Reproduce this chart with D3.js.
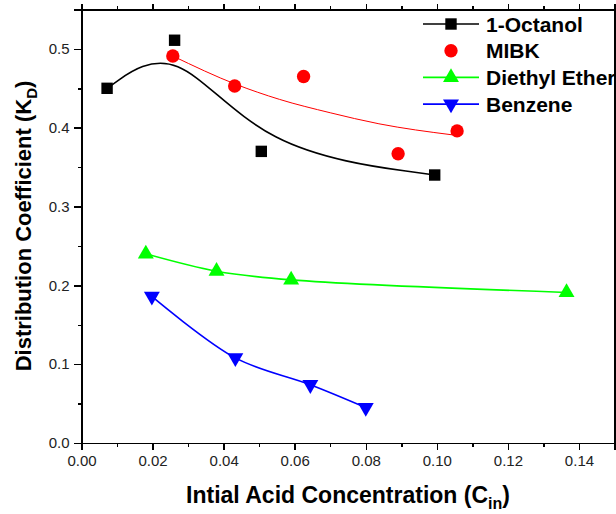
<!DOCTYPE html>
<html>
<head>
<meta charset="utf-8">
<script src="https://cdn.jsdelivr.net/npm/d3@7/dist/d3.min.js"></script>
<style>
  body { margin: 0; background: #fff; }
  svg { font-family: "Liberation Sans", Arial, sans-serif; }
  .axis path, .axis line { fill: none; stroke: #000; stroke-width: 1.5px; shape-rendering: crispEdges; }
  .axis text { font-size: 15px; fill: #222; }
</style>
</head>
<body>
<div id="container"></div>
<script>
// data
let octanolX = [0.0072, 0.0262, 0.0506, 0.0994];
let octanolY = [0.450, 0.511, 0.370, 0.340];

let mibkX = [0.0257, 0.0431, 0.0625, 0.0891, 0.1057];
let mibkY = [0.491, 0.453, 0.465, 0.367, 0.396];
// fitted curve for MIBK
let mibkFitX = [0.0257, 0.0435, 0.0557, 0.0700, 0.0837, 0.1043];
let mibkFitY = [0.491, 0.455, 0.436, 0.419, 0.405, 0.391];

let etherX = [0.0181, 0.0380, 0.0590, 0.1365];
let etherY = [0.240, 0.218, 0.207, 0.191];

let benzeneX = [0.0198, 0.0433, 0.0644, 0.0800];
let benzeneY = [0.186, 0.108, 0.074, 0.045];

let xTicks = [0, 0.02, 0.04, 0.06, 0.08, 0.10, 0.12, 0.14];
let yTicks = [0, 0.1, 0.2, 0.3, 0.4, 0.5];
let legendNames = ["1-Octanol", "MIBK", "Diethyl Ether", "Benzene"];

function zip(xs, ys) {
  return xs.map(function(x, i) { return { x: x, y: ys[i] }; });
}

let margin = { top: 9.5, right: 1.5, bottom: 71, left: 81.5 };
let width = 616 - margin.left - margin.right;
let height = 514 - margin.top - margin.bottom;

let scaleX = d3.scaleLinear().domain([0, 0.15]).range([0, width]);
let scaleY = d3.scaleLinear().domain([0, 0.55]).range([height, 0]);

let svg = d3.select("#container").append("svg")
  .attr("width", 616)
  .attr("height", 514);

let g = svg.append("g")
  .attr("transform", "translate(" + margin.left + "," + margin.top + ")");

// minor ticks (no labels)
let minorX = d3.range(0, 0.1501, 0.01);
let minorY = d3.range(0, 0.5501, 0.05);

g.append("g").attr("class", "axis")
  .attr("transform", "translate(0," + height + ")")
  .call(d3.axisBottom(scaleX).tickValues(minorX).tickSize(4).tickFormat(""));
g.append("g").attr("class", "axis")
  .attr("transform", "translate(0," + height + ")")
  .call(d3.axisBottom(scaleX).tickValues(xTicks).tickSize(7).tickPadding(5).tickFormat(d3.format(".2f")));

g.append("g").attr("class", "axis")
  .call(d3.axisLeft(scaleY).tickValues(minorY).tickSize(4).tickFormat(""));
g.append("g").attr("class", "axis")
  .call(d3.axisLeft(scaleY).tickValues(yTicks).tickSize(8).tickPadding(4).tickFormat(d3.format(".1f")));

// top and right frame
g.append("g").attr("class", "axis")
  .call(d3.axisTop(scaleX).tickValues(minorX).tickSize(4).tickFormat(""));
g.append("g").attr("class", "axis")
  .call(d3.axisTop(scaleX).tickValues(xTicks).tickSize(6).tickFormat(""));
g.append("g").attr("class", "axis")
  .attr("transform", "translate(" + width + ",0)")
  .call(d3.axisRight(scaleY).tickValues(yTicks).tickSize(0).tickFormat(""));

// lines
let smooth = d3.line()
  .x(function(d) { return scaleX(d.x); })
  .y(function(d) { return scaleY(d.y); });

g.append("path").datum(zip(octanolX, octanolY))
  .attr("fill", "none").attr("stroke", "#000").attr("stroke-width", 1.6)
  .attr("d", smooth.curve(d3.curveBasis));

g.append("path").datum(zip(mibkFitX, mibkFitY))
  .attr("fill", "none").attr("stroke", "#ff0000").attr("stroke-width", 1)
  .attr("d", smooth.curve(d3.curveMonotoneX));

g.append("path").datum(zip(etherX, etherY))
  .attr("fill", "none").attr("stroke", "#00ff00").attr("stroke-width", 1.6)
  .attr("d", smooth.curve(d3.curveCatmullRom));

g.append("path").datum(zip(benzeneX, benzeneY))
  .attr("fill", "none").attr("stroke", "#0000ff").attr("stroke-width", 1.6)
  .attr("d", smooth.curve(d3.curveCatmullRom));

// markers
let square = d3.symbol().type(d3.symbolSquare).size(130);
let circle = d3.symbol().type(d3.symbolCircle).size(140);
let triUp = d3.symbol().type(d3.symbolTriangle).size(110);

function markers(data, sym, color, rot) {
  g.append("g").selectAll("path").data(data).enter().append("path")
    .attr("d", sym)
    .attr("fill", color)
    .attr("transform", function(d) {
      return "translate(" + scaleX(d.x) + "," + scaleY(d.y) + ")" + (rot ? " rotate(180)" : "");
    });
}

markers(zip(octanolX, octanolY), square, "#000", false);
markers(zip(mibkX, mibkY), circle, "#ff0000", false);
markers(zip(etherX, etherY), triUp, "#00ff00", false);
markers(zip(benzeneX, benzeneY), triUp, "#0000ff", true);

// legend
let legendColors = ["#000", "#ff0000", "#00ff00", "#0000ff"];
let legendSyms = [square, circle, triUp, triUp];
let legend = svg.append("g");
legendNames.forEach(function(name, i) {
  let y = 24 + i * 26.7;
  if (i !== 1) {
    legend.append("line")
      .attr("x1", 423).attr("x2", 479).attr("y1", y).attr("y2", y)
      .attr("stroke", legendColors[i]).attr("stroke-width", 1.6);
  }
  legend.append("path")
    .attr("d", legendSyms[i])
    .attr("fill", legendColors[i])
    .attr("transform", "translate(451," + y + ")" + (i === 3 ? " rotate(180)" : ""));
  legend.append("text")
    .attr("x", 486).attr("y", y + 7.5)
    .attr("font-size", 21).attr("font-weight", "bold")
    .text(name);
});

// axis titles
let xt = svg.append("text")
  .attr("x", 348).attr("y", 503)
  .attr("text-anchor", "middle")
  .attr("font-size", 23).attr("font-weight", "bold");
xt.append("tspan").text("Intial Acid Concentration (C");
xt.append("tspan").attr("font-size", 16).attr("dy", 6).text("in");
xt.append("tspan").attr("dy", -6).text(")");

let yt = svg.append("text")
  .attr("transform", "translate(31,226) rotate(-90)")
  .attr("text-anchor", "middle")
  .attr("font-size", 22).attr("font-weight", "bold");
yt.append("tspan").text("Distribution Coefficient (K");
yt.append("tspan").attr("font-size", 15).attr("dy", 6).text("D");
yt.append("tspan").attr("dy", -6).text(")");
</script>
</body>
</html>
